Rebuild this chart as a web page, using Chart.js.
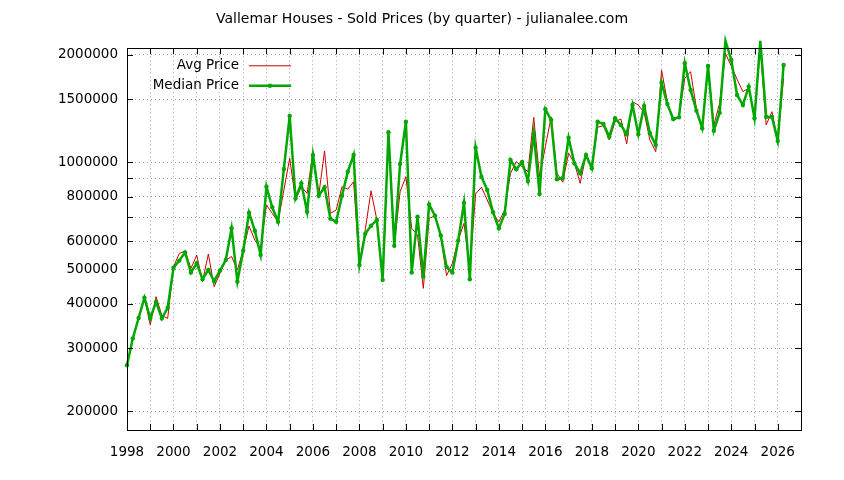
<!DOCTYPE html>
<html>
<head>
<meta charset="utf-8">
<script src="https://cdn.jsdelivr.net/npm/chart.js@4.4.1/dist/chart.umd.min.js"></script>
<style>
  html, body { margin: 0; padding: 0; background: #fff; }
</style>
</head>
<body>
<canvas id="priceChart" width="844" height="480"></canvas>
<script>
const chartTitle = 'Vallemar Houses - Sold Prices (by quarter) - julianalee.com';

// one value per quarter, first one is 1998 Q1
const firstQuarter = 1998;

const avgPrice = [
    269000, 320000, 365000, 416000,     // 1998
    349000, 419000, 371000, 364000,     // 1999
    508000, 554000, 563000, 503000,     // 2000
    548000, 462000, 552000, 447000,     // 2001
    487000, 531000, 543000, 498000,     // 2002
    566000, 662000, 604000, 573000,     // 2003
    758000, 718000, 680000, 835000,     // 2004
    1025000, 783000, 853000, 817000,    // 2005
    1070000, 807000, 1075000, 718000,   // 2006
    734000, 853000, 840000, 881000,     // 2007
    514000, 645000, 831000, 688000,     // 2008
    467000, 1192000, 582000, 826000,    // 2009
    910000, 652000, 624000, 442000,     // 2010
    695000, 707000, 618000, 480000,     // 2011
    520000, 604000, 673000, 498000,     // 2012
    814000, 850000, 783000, 718000,     // 2013
    680000, 734000, 930000, 1003000,    // 2014
    971000, 940000, 1336000, 910000,    // 2015
    1105000, 1340000, 930000, 878000,   // 2016
    1059000, 993000, 872000, 1047000,   // 2017
    961000, 1253000, 1266000, 1154000,  // 2018
    1299000, 1322000, 1125000, 1478000, // 2019
    1447000, 1377000, 1154000, 1070000, // 2020
    1815000, 1478000, 1305000, 1340000, // 2021
    1720000, 1795000, 1416000, 1253000, // 2022
    1855000, 1272000, 1463000, 2020000, // 2023
    1860000, 1709000, 1578000, 1612000, // 2024
    1340000, 2100000, 1272000, 1386000, // 2025
    1154000, 1720000                    // 2026
];

const medianPrice = [
    269000, 320000, 365000, 416000,     // 1998
    364000, 405000, 364000, 390000,     // 1999
    505000, 529000, 558000, 490000,     // 2000
    520000, 469000, 498000, 463000,     // 2001
    496000, 531000, 652000, 462000,     // 2002
    564000, 721000, 642000, 549000,     // 2003
    853000, 747000, 680000, 957000,     // 2004
    1348000, 791000, 872000, 726000,    // 2005
    1047000, 805000, 850000, 694000,    // 2006
    680000, 805000, 940000, 1047000,    // 2007
    514000, 629000, 663000, 688000,     // 2008
    467000, 1213000, 582000, 988000,    // 2009
    1299000, 490000, 703000, 477000,    // 2010
    761000, 707000, 622000, 508000,     // 2011
    490000, 602000, 769000, 469000,     // 2012
    1098000, 910000, 835000, 723000,    // 2013
    652000, 715000, 1014000, 955000,    // 2014
    1001000, 885000, 1205000, 814000,   // 2015
    1408000, 1313000, 895000, 901000,   // 2016
    1171000, 993000, 930000, 1047000,   // 2017
    961000, 1299000, 1280000, 1179000,  // 2018
    1328000, 1272000, 1197000, 1447000, // 2019
    1197000, 1438000, 1205000, 1117000, // 2020
    1672000, 1456000, 1322000, 1336000, // 2021
    1895000, 1595000, 1395000, 1245000, // 2022
    1863000, 1226000, 1377000, 2190000, // 2023
    1936000, 1544000, 1447000, 1630000, // 2024
    1328000, 2190000, 1340000, 1340000, // 2025
    1146000, 1875000                    // 2026
];

const yGridValues = [200000, 300000, 400000, 500000, 600000, 700000, 800000, 900000, 1000000, 1500000, 2000000];
const yTickLabels = [200000, 300000, 400000, 500000, 600000, 800000, 1000000, 1500000, 2000000];
const xTickLabels = [1998, 2000, 2002, 2004, 2006, 2008, 2010, 2012, 2014, 2016, 2018, 2020, 2022, 2024, 2026];

const FONT = '"DejaVu Sans", sans-serif';
const FONT_SIZE = 13.5;
const RED = '#cc0000';
const GREEN = '#00a800';

const toPoints = arr => arr.map((v, i) => ({ x: firstQuarter + i / 4, y: v }));

// title centred on the whole picture, not on the plot
const titlePlugin = {
    id: 'pageTitle',
    afterDraw(chart) {
        const { ctx, width } = chart;
        ctx.save();
        ctx.font = `14px ${FONT}`;
        ctx.fillStyle = '#000';
        ctx.textAlign = 'center';
        ctx.textBaseline = 'middle';
        ctx.fillText(chartTitle, width / 2, 19);
        ctx.restore();
    }
};

// gnuplot style frame: box round the plot and ticks pointing inward
const framePlugin = {
    id: 'frame',
    afterDatasetsDraw(chart) {
        const { ctx, chartArea: a, scales: { x, y } } = chart;
        const len = 6;
        ctx.save();
        ctx.strokeStyle = '#000';
        ctx.lineWidth = 1;
        ctx.beginPath();
        x.ticks.forEach(t => {
            const px = Math.round(x.getPixelForValue(t.value)) + 0.5;
            ctx.moveTo(px, a.bottom); ctx.lineTo(px, a.bottom - len);
            ctx.moveTo(px, a.top); ctx.lineTo(px, a.top + len);
        });
        yGridValues.forEach(v => {
            const py = Math.round(y.getPixelForValue(v)) + 0.5;
            ctx.moveTo(a.left, py); ctx.lineTo(a.left + len, py);
            ctx.moveTo(a.right, py); ctx.lineTo(a.right - len, py);
        });
        ctx.stroke();
        ctx.strokeRect(Math.round(a.left) + 0.5, Math.round(a.top) + 0.5,
            Math.round(a.right - a.left), Math.round(a.bottom - a.top));
        ctx.restore();
    }
};

// key in the top left corner, text right aligned with the sample line after it
const keyPlugin = {
    id: 'key',
    afterDraw(chart) {
        const { ctx, chartArea: a } = chart;
        const textRight = a.left + 112;
        const lineStart = a.left + 122;
        const lineEnd = a.left + 164;
        const rows = [chart.data.datasets[1], chart.data.datasets[0]];
        ctx.save();
        ctx.font = `${FONT_SIZE}px ${FONT}`;
        ctx.textAlign = 'right';
        ctx.textBaseline = 'middle';
        rows.forEach((ds, i) => {
            const yy = a.top + 17 + i * 20;
            ctx.fillStyle = '#000';
            ctx.fillText(ds.label, textRight, yy);
            ctx.strokeStyle = ds.borderColor;
            ctx.lineWidth = ds.borderWidth;
            ctx.beginPath();
            ctx.moveTo(lineStart, yy + 0.5);
            ctx.lineTo(lineEnd, yy + 0.5);
            ctx.stroke();
            if (ds.pointRadius > 0) {
                ctx.fillStyle = ds.borderColor;
                ctx.beginPath();
                ctx.arc((lineStart + lineEnd) / 2, yy + 0.5, ds.pointRadius, 0, Math.PI * 2);
                ctx.fill();
            }
        });
        ctx.restore();
    }
};

new Chart(document.getElementById('priceChart'), {
    type: 'line',
    data: {
        datasets: [
            {
                label: 'Median Price', data: toPoints(medianPrice),
                borderColor: GREEN, backgroundColor: GREEN, borderWidth: 2.5,
                pointRadius: 2.2, pointBorderWidth: 0, pointBackgroundColor: GREEN,
                tension: 0, order: 1, clip: false
            },
            {
                label: 'Avg Price', data: toPoints(avgPrice),
                borderColor: RED, backgroundColor: RED, borderWidth: 1,
                pointRadius: 0, tension: 0, order: 2, clip: false
            }
        ]
    },
    options: {
        responsive: false,
        animation: false,
        devicePixelRatio: 1,
        layout: { padding: { left: 0, right: 43, top: 48.3, bottom: 0 } },
        plugins: {
            legend: { display: false },
            tooltip: { enabled: false },
            title: { display: false }
        },
        scales: {
            x: {
                type: 'linear', min: 1998, max: 2027,
                afterFit: s => { s.height = 50; },
                grid: { color: '#a0a0a0', lineWidth: 1, drawTicks: false },
                border: { display: false, dash: [1, 3] },
                ticks: {
                    stepSize: 1, autoSkip: false, maxRotation: 0, padding: 14,
                    color: '#000', font: { family: FONT, size: FONT_SIZE },
                    callback: v => xTickLabels.includes(v) ? String(v) : ''
                }
            },
            y: {
                type: 'logarithmic', min: 176900, max: 2088000,
                afterFit: s => { s.width = 127; },
                afterBuildTicks: s => { s.ticks = yGridValues.map(v => ({ value: v })); },
                grid: { color: '#a0a0a0', lineWidth: 1, drawTicks: false },
                border: { display: false, dash: [1, 3] },
                ticks: {
                    autoSkip: false, padding: 9,
                    color: '#000', font: { family: FONT, size: FONT_SIZE },
                    callback: v => yTickLabels.includes(v) ? String(v) : ''
                }
            }
        }
    },
    plugins: [titlePlugin, framePlugin, keyPlugin]
});
</script>
</body>
</html>
